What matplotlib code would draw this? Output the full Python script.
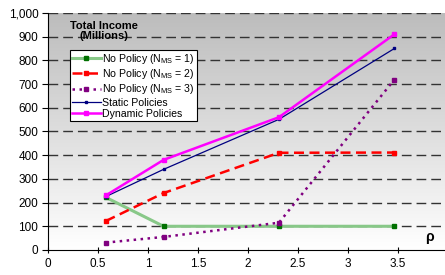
import numpy as np
import matplotlib.pyplot as plt
from matplotlib.colors import LinearSegmentedColormap
from matplotlib.ticker import FuncFormatter

plt.rcParams['font.family'] = ['Liberation Sans', 'DejaVu Sans']

rho = [0.577, 1.155, 2.309, 3.464]
no_policy_1 = [222, 100, 100, 100]
no_policy_2 = [122, 240, 410, 411]
no_policy_3 = [31, 55, 115, 719]
static_pol = [225, 340, 551, 850]
dynamic_pol = [230, 380, 560, 910]

fig = plt.figure(figsize=(4.45, 2.75), dpi=100)
ax = fig.add_axes([0.108, 0.091, 0.892, 0.862])

xmin, xmax = 0, 3.97
ymin, ymax = 0, 1000

# fond en dégradé gris -> blanc
grad = np.linspace(0, 1, 256).reshape(-1, 1)
cmap = LinearSegmentedColormap.from_list('g', ['#ffffff', '#bcbcbc'])
ax.imshow(grad, extent=(xmin, xmax, ymin, ymax), aspect='auto', origin='lower',
          cmap=cmap, zorder=0)

for yv in range(100, 1001, 100):
    ax.axhline(yv, color='#333333', lw=1.0, ls=(0, (7, 3.6)), zorder=1)

ax.plot(rho, no_policy_1, color='#88c888', lw=2.2, marker='s', ms=2.5,
        mfc='#007000', mec='#007000', label='No Policy (N$_{\\mathregular{MS}}$ = 1)', zorder=3)
ax.plot(rho, no_policy_2, color='#ff0000', lw=1.8, ls=(0, (4, 2.2)), marker='s', ms=2.5,
        label='No Policy (N$_{\\mathregular{MS}}$ = 2)', zorder=3)
ax.plot(rho, no_policy_3, color='#800080', lw=1.8, ls=(0, (1, 1.8)), marker='s', ms=2.5,
        label='No Policy (N$_{\\mathregular{MS}}$ = 3)', zorder=3)
ax.plot(rho, static_pol, color='#000080', lw=0.9, marker='s', ms=2,
        label='Static Policies', zorder=4)
ax.plot(rho, dynamic_pol, color='#ff00ff', lw=1.8, marker='s', ms=3.2,
        label='Dynamic Policies', zorder=5)

ax.set_xlim(xmin, xmax)
ax.set_ylim(ymin, ymax)
ax.set_xticks(np.arange(0, 3.6, 0.5))
ax.set_xticklabels(['0', '0.5', '1', '1.5', '2', '2.5', '3', '3.5'])
ax.set_yticks(range(0, 1001, 100))
ax.yaxis.set_major_formatter(FuncFormatter(lambda v, p: f'{int(v):,}'))
ax.tick_params(labelsize=8.5, pad=3)
ax.tick_params(axis='x', direction='inout', length=5)
ax.tick_params(axis='y', direction='out', length=4)
for s in ['top', 'right']:
    ax.spines[s].set_visible(False)

ax.text(0.142, 0.965, 'Total Income\n(Millions)', transform=ax.transAxes,
        fontsize=8, fontweight='bold', ha='center', va='top', multialignment='center',
        linespacing=1.0)
ax.text(0.96, 0.025, 'ρ', transform=ax.transAxes, fontsize=10, fontweight='bold',
        ha='center', va='bottom')

leg = ax.legend(loc='upper left', bbox_to_anchor=(0.055, 0.845), fontsize=7.6,
                frameon=True, fancybox=False, framealpha=1, edgecolor='black',
                handlelength=2.7, handletextpad=0.15, borderpad=0.2, labelspacing=0.12,
                borderaxespad=0)
leg.get_frame().set_linewidth(0.8)

fig.savefig('out.png', dpi=100)
